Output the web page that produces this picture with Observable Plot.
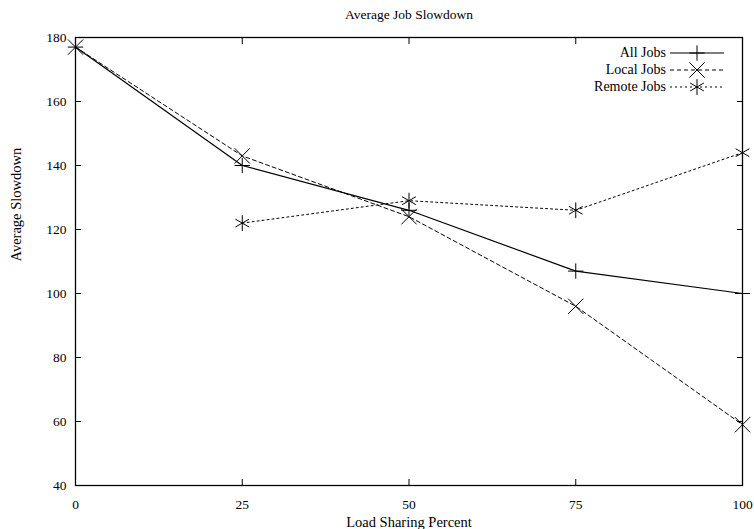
<!DOCTYPE html>
<html><head><meta charset="utf-8">
<script src="https://cdn.jsdelivr.net/npm/d3@7"></script>
<script src="https://cdn.jsdelivr.net/npm/@observablehq/plot@0.6"></script>
<style>body{margin:0;background:#fff} svg text{font-family:"Liberation Serif",serif !important}</style>
</head><body><div id="chart"></div>
<script>
const percents = [0, 25, 50, 75, 100];
const allJobs = [177, 140, 126, 107, 100];
const localJobs = [177, 143, 124, 96, 59];
const remotePercents = [25, 50, 75, 100];
const remoteJobs = [122, 129, 126, 144];
const xTicks = [0, 25, 50, 75, 100];
const yTicks = [40, 60, 80, 100, 120, 140, 160, 180];
const seriesNames = ["All Jobs", "Local Jobs", "Remote Jobs"];

const allData = percents.map((p, i) => ({x: p, y: allJobs[i]}));
const localData = percents.map((p, i) => ({x: p, y: localJobs[i]}));
const remoteData = remotePercents.map((p, i) => ({x: p, y: remoteJobs[i]}));

const font = "Liberation Serif";
const W = 754, H = 529;
const mL = 75, mR = 12, mT = 37, mB = 44;

const chart = Plot.plot({
  width: W, height: H,
  marginLeft: mL, marginRight: mR, marginTop: mT, marginBottom: mB,
  style: {fontFamily: font, fontSize: "14px", color: "#000", background: "#fff"},
  x: {domain: [0, 100], label: null},
  y: {domain: [40, 180], label: null},
  marks: [
    Plot.axisX(xTicks, {anchor: "bottom", tickSize: -6, text: null, stroke: "#000", label: null}),
    Plot.axisX(xTicks, {anchor: "top", tickSize: -6, text: null, stroke: "#000", label: null}),
    Plot.axisX(xTicks, {anchor: "bottom", tickSize: 0, tickPadding: 14, fontSize: 13.5, fontFamily: font, fontVariant: "normal", label: null}),
    Plot.axisY(yTicks, {anchor: "left", tickSize: -6, text: null, stroke: "#000", label: null}),
    Plot.axisY(yTicks, {anchor: "right", tickSize: -6, text: null, stroke: "#000", label: null}),
    Plot.axisY(yTicks, {anchor: "left", tickSize: 0, tickPadding: 9, fontSize: 13.5, fontFamily: font, fontVariant: "normal", label: null}),
    Plot.frame({stroke: "#000", strokeWidth: 1.3}),
    Plot.line(allData, {x: "x", y: "y", stroke: "#000", strokeWidth: 1.2}),
    Plot.line(localData, {x: "x", y: "y", stroke: "#000", strokeWidth: 1, strokeDasharray: "4,3"}),
    Plot.line(remoteData, {x: "x", y: "y", stroke: "#000", strokeWidth: 1, strokeDasharray: "2,3"}),
    Plot.dot(allData, {x: "x", y: "y", symbol: "plus", r: 5, stroke: "#000", strokeWidth: 1}),
    Plot.dot(localData, {x: "x", y: "y", symbol: "times", r: 7, stroke: "#000", strokeWidth: 1}),
    Plot.dot(remoteData, {x: "x", y: "y", symbol: "asterisk", r: 7.5, stroke: "#000", strokeWidth: 1}),
    Plot.text(["Average Job Slowdown"], {frameAnchor: "top", lineAnchor: "middle", dy: -23, fontSize: 13.5, fontFamily: font, fill: "#000"}),
    Plot.text(["Load Sharing Percent"], {frameAnchor: "bottom", lineAnchor: "middle", dy: 37, fontSize: 14.5, fontFamily: font, fill: "#000"}),
    Plot.text(["Average Slowdown"], {frameAnchor: "left", lineAnchor: "middle", dx: -59, rotate: -90, fontSize: 14.5, fontFamily: font, fill: "#000"})
  ]
});

// legend (top-right inside frame)
const svg = d3.select(chart);
const right = W - mR;
const legendStyles = [
  {dash: null, sym: d3.symbolPlus, size: 5},
  {dash: "4,3", sym: d3.symbolTimes, size: 7},
  {dash: "2,3", sym: d3.symbolAsterisk, size: 7.5}
];
const g = svg.append("g").attr("font-family", font).attr("font-size", 14);
seriesNames.forEach((name, i) => {
  const y = 53 + i * 17;
  g.append("text").attr("x", right - 76).attr("y", y).attr("dy", "0.32em")
    .attr("text-anchor", "end").attr("fill", "#000").text(name);
  g.append("line").attr("x1", right - 72).attr("x2", right - 18).attr("y1", y).attr("y2", y)
    .attr("stroke", "#000").attr("stroke-width", i === 0 ? 1.2 : 1)
    .attr("stroke-dasharray", legendStyles[i].dash);
  const r = legendStyles[i].size;
  g.append("path").attr("transform", `translate(${right - 45},${y})`)
    .attr("d", d3.symbol(legendStyles[i].sym, Math.PI * r * r)())
    .attr("fill", "none").attr("stroke", "#000");
});

document.getElementById("chart").appendChild(chart);
</script>
</body></html>
